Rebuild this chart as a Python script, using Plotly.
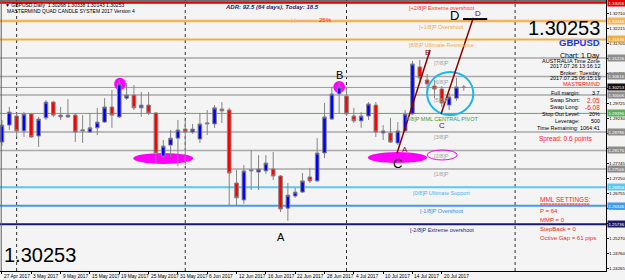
import plotly.graph_objects as go

# ---------------- data ----------------
opens = [1.2845, 1.2901, 1.2931, 1.2882, 1.2938, 1.2865, 1.2925, 1.2977, 1.2934, 1.2928,
         1.2934, 1.2882, 1.2878, 1.2892, 1.2911, 1.2961, 1.2928, 1.2990, 1.3000, 1.2958,
         1.2967, 1.2941, 1.2799, 1.2835, 1.2858, 1.2888, 1.2878, 1.2855, 1.2905, 1.2905,
         1.2954, 1.2951, 1.2710, 1.2654, 1.2750, 1.2746, 1.2750, 1.2756, 1.2733, 1.2627,
         1.2667, 1.2680, 1.2730, 1.2717, 1.2809, 1.2921, 1.3004, 1.2997, 1.2931, 1.2915,
         1.2931, 1.2967, 1.2875, 1.2875, 1.2842, 1.2882, 1.2938, 1.3093, 1.3050, 1.3030,
         1.3020, 1.2967, 1.2990, 1.30268]
highs = [1.2918, 1.2961, 1.2941, 1.2944, 1.2941, 1.2928, 1.2984, 1.2981, 1.2961, 1.2987,
         1.2941, 1.2934, 1.2941, 1.2958, 1.2990, 1.3017, 1.3050, 1.3040, 1.3033, 1.3010,
         1.3010, 1.2944, 1.2852, 1.2885, 1.2918, 1.2918, 1.2905, 1.2941, 1.2951, 1.2967,
         1.2977, 1.2958, 1.2753, 1.2769, 1.2819, 1.2802, 1.2802, 1.2812, 1.2736, 1.2710,
         1.2694, 1.2743, 1.2760, 1.2858, 1.2974, 1.3027, 1.3043, 1.3024, 1.2958, 1.2944,
         1.2977, 1.2977, 1.2901, 1.2925, 1.2911, 1.2951, 1.3113, 1.3116, 1.3070, 1.3050,
         1.3030, 1.3007, 1.3057, 1.30338]
lows = [1.2832, 1.2885, 1.2862, 1.2862, 1.2859, 1.2829, 1.2918, 1.2928, 1.2918, 1.2925,
        1.2845, 1.2842, 1.2875, 1.2868, 1.2908, 1.2892, 1.2925, 1.2984, 1.2951, 1.2928,
        1.2934, 1.2776, 1.2792, 1.2796, 1.2766, 1.2769, 1.2872, 1.2842, 1.2868, 1.2892,
        1.2908, 1.2634, 1.2634, 1.2641, 1.2687, 1.2687, 1.2740, 1.2720, 1.2614, 1.2585,
        1.2661, 1.2677, 1.2710, 1.2713, 1.2792, 1.2918, 1.2941, 1.2931, 1.2908, 1.2892,
        1.2918, 1.2862, 1.2852, 1.2842, 1.2835, 1.2878, 1.2934, 1.3040, 1.2997, 1.2990,
        1.2961, 1.2951, 1.2981, 1.30143]
closes = [1.2901, 1.2944, 1.2882, 1.2938, 1.2862, 1.2921, 1.2977, 1.2934, 1.2928, 1.2934,
          1.2878, 1.2885, 1.2892, 1.2911, 1.2961, 1.2934, 1.3037, 1.3000, 1.2958, 1.2967,
          1.2941, 1.2809, 1.2832, 1.2858, 1.2885, 1.2878, 1.2888, 1.2905, 1.2908, 1.2958,
          1.2948, 1.2743, 1.2661, 1.2750, 1.2753, 1.2756, 1.2776, 1.2733, 1.2624, 1.2670,
          1.2680, 1.2717, 1.2717, 1.2809, 1.2928, 1.3004, 1.3027, 1.2938, 1.2915, 1.2931,
          1.2971, 1.2878, 1.2882, 1.2845, 1.2882, 1.2938, 1.3103, 1.3057, 1.3037, 1.3020,
          1.2974, 1.2994, 1.3027, 1.30253]

date_tick_idx = [0, 4, 8, 12, 16, 20, 24, 28, 32, 36, 40, 44, 48, 52, 56, 60]
date_tick_text = ["27 Apr 2017", "3 May 2017", "9 May 2017", "15 May 2017", "19 May 2017",
                  "25 May 2017", "31 May 2017", "6 Jun 2017", "12 Jun 2017", "16 Jun 2017",
                  "22 Jun 2017", "28 Jun 2017", "4 Jul 2017", "10 Jul 2017", "14 Jul 2017",
                  "20 Jul 2017"]
month_sep_idx = [2, 25, 47, 70]

price_ticks = [1.32710, 1.32215, 1.31705, 1.31210, 1.30715, 1.30220, 1.29725, 1.29230,
               1.28735, 1.28240, 1.27745, 1.27250, 1.26755, 1.26260, 1.25765, 1.25270,
               1.24760, 1.24265]

mml_names = ["[+2/8]P Extreme overshoot", "[+1/8]P Overshoot", "[8/8]P Ultimate Resistance",
             "[7/8]P", "[6/8]P", "[5/8]P", "[4/8]P MML CENTRAL PIVOT", "[3/8]P", "[2/8]P",
             "[1/8]P", "[0/8]P Ultimate Support", "[-1/8]P Overshoot", "[-2/8]P Extreme overshoot"]
mml_prices = [1.33056, 1.32446, 1.31836, 1.31226, 1.30616, 1.30006, 1.29396, 1.28786,
              1.28176, 1.27566, 1.26956, 1.26346, 1.25736]
mml_colors = ["#e00000", "#f8b454", "#f3ad3c", "#a8a8a8", "#a8a8a8", "#a8a8a8", "#58b058",
              "#a8a8a8", "#a8a8a8", "#a8a8a8", "#5cc8f0", "#3c9cf0", "#1a1a6a"]
mml_text_colors = ["#ff3030", "#f8a848", "#f8a848", "#a0a0a0", "#a0a0a0", "#a0a0a0", "#3a9a3a",
                   "#a0a0a0", "#a0a0a0", "#a0a0a0", "#40b8f0", "#3090f0", "#1a1a8a"]
mml_widths = [2.5, 2.5, 2, 1.5, 1.5, 1.5, 1, 1.5, 1.5, 1.5, 2, 2, 2]

current_price = 1.30253

# chart drawing objects (bar index, price)
black_labels = [("A", 38, 1.2532, 11), ("B", 46.1, 1.3066, 11), ("C", 54.0, 1.2776, 13), ("D", 61.7, 1.3264, 13)]
red_labels = [("B", 58.0, 1.3142), ("A", 55.0, 1.2822), ("C", 60.0, 1.2901), ("D", 64.9, 1.3268)]
red_lines = [((53.9, 1.2809), (58.4, 1.3149)), ((59.9, 1.2938), (64.3, 1.3255))]
d_line = ((62.9, 1.3251), (66.2, 1.3251))
magenta_dots = [(15.3, 16.9, 1.3017, 1.3057), (45.2, 46.8, 1.3007, 1.3047)]
magenta_ellipses = [(17.9, 26.1, 1.2773, 1.2809), (49.9, 58.0, 1.2776, 1.2812)]
open_ellipse = (58.0, 62.1, 1.2786, 1.2819)
cyan_circle = (58.0, 64.3, 1.2934, 1.3076)

# ---------------- figure ----------------
W, H = 625, 280
ML, MR, MT, MB = 0, 19, 0, 9
PW, PH = W - ML - MR, H - MT - MB
X0, X1 = -0.27, 82.4
Y0, Y1 = 1.24196, 1.33139

def xp(px):
    return px / PW

def yp(py):
    return 1 - py / PH

FONT = "Liberation Sans, Arial"
AXF = 4.3

fig = go.Figure()
fig.add_trace(go.Candlestick(
    x=list(range(len(opens))), open=opens, high=highs, low=lows, close=closes,
    increasing=dict(fillcolor="#0000ff", line=dict(color="#858585", width=1)),
    decreasing=dict(fillcolor="#ff0000", line=dict(color="#858585", width=1)),
    whiskerwidth=0, showlegend=False, hoverinfo="skip"))

shapes = []
ann = []

# month separators
for i in month_sep_idx:
    shapes.append(dict(type="line", xref="x", yref="paper", x0=i, x1=i, y0=0, y1=1,
                       line=dict(color="#303030", width=1, dash="dot"), layer="below"))

# MML lines and labels
for name, p, c, tc, w in zip(mml_names, mml_prices, mml_colors, mml_text_colors, mml_widths):
    shapes.append(dict(type="line", xref="paper", yref="y", x0=0, x1=1, y0=p, y1=p,
                       line=dict(color=c, width=w), layer="below"))
    ann.append(dict(x=60, y=p, xref="x", yref="y", text=name, showarrow=False,
                    xanchor="center", yanchor="top", yshift=-0.5,
                    font=dict(size=5.5, color=tc, family=FONT)))
    ann.append(dict(x=1, y=p, xref="paper", yref="y", text=f"{p:.5f}", showarrow=False,
                    xanchor="left", yanchor="middle", xshift=1,
                    bgcolor=c if c != "#a8a8a8" else "#8c8c8c", borderpad=0.5,
                    font=dict(size=AXF, color="white", family=FONT)))

# current price line and label
shapes.append(dict(type="line", xref="paper", yref="y", x0=0, x1=1, y0=current_price, y1=current_price,
                   line=dict(color="#9a9a9a", width=1), layer="below"))
ann.append(dict(x=1, y=current_price, xref="paper", yref="y", text=f"{current_price:.5f}",
                showarrow=False, xanchor="left", yanchor="middle", xshift=1, bgcolor="#101010",
                borderpad=0.5, font=dict(size=AXF, color="white", family=FONT)))

# magenta markers
for (a, b, lo, hi) in magenta_dots + magenta_ellipses:
    shapes.append(dict(type="circle", xref="x", yref="y", x0=a, x1=b, y0=lo, y1=hi,
                       fillcolor="#ff00ff", line=dict(width=0), layer="below"))
a, b, lo, hi = open_ellipse
shapes.append(dict(type="circle", xref="x", yref="y", x0=a, x1=b, y0=lo, y1=hi,
                   line=dict(color="#ff00ff", width=1), layer="above"))
a, b, lo, hi = cyan_circle
shapes.append(dict(type="circle", xref="x", yref="y", x0=a, x1=b, y0=lo, y1=hi,
                   line=dict(color="#1ab8f0", width=2), layer="above"))

# pattern lines
for (p0, p1) in red_lines:
    shapes.append(dict(type="line", xref="x", yref="y", x0=p0[0], y0=p0[1], x1=p1[0], y1=p1[1],
                       line=dict(color="#8b0000", width=1.5), layer="above"))
shapes.append(dict(type="line", xref="x", yref="y", x0=d_line[0][0], y0=d_line[0][1],
                   x1=d_line[1][0], y1=d_line[1][1], line=dict(color="black", width=2), layer="above"))

# frame lines
shapes.append(dict(type="line", xref="paper", yref="paper", x0=0, x1=1, y0=1, y1=1,
                   line=dict(color="#404040", width=1.5)))
shapes.append(dict(type="line", xref="paper", yref="paper", x0=0.002, x1=0.002, y0=0, y1=1,
                   line=dict(color="#606060", width=1)))

for (t, xi, p, s) in black_labels:
    ann.append(dict(x=xi, y=p, xref="x", yref="y", text=t, showarrow=False,
                    font=dict(size=s, color="black", family="Liberation Sans, Arial")))
for (t, xi, p) in red_labels:
    ann.append(dict(x=xi, y=p, xref="x", yref="y", text=t, showarrow=False,
                    font=dict(size=8, color="#8b0000", family="Liberation Sans, Arial")))

# date labels (left-aligned at their bar, like MT4)
for i, t in zip(date_tick_idx, date_tick_text):
    ann.append(dict(x=i, y=0, xref="x", yref="paper", text=t, showarrow=False,
                    xanchor="left", yanchor="top", xshift=0, yshift=-0.5,
                    font=dict(size=4.8, color="black", family=FONT)))


def txt(x, y, s, size=5.5, color="black", anchor="left", family=FONT):
    ann.append(dict(x=xp(x), y=yp(y), xref="paper", yref="paper", text=s, showarrow=False,
                    xanchor=anchor, yanchor="middle", font=dict(size=size, color=color, family=family)))

# top-left
txt(3, 5, "▼ GBPUSD,Daily  1.30268 1.30338 1.30143 1.30253", 5)
txt(5, 11.5, "MASTERMIND QUAD CANDLE SYSTEM 2017 Version 4", 5)
# top center
txt(272, 7, "<b><i>ADR: 92.5 (64 days), Today: 18.5</i></b>", 6, "#1c1c78", "center")
txt(316, 20, "|-|----------", 5.5, "#f4a0a0", "right")
txt(317, 20, "25%", 6, "#ff2020", "left")

# right panel
R = 602
txt(R, 28, "1.30253", 20, "black", "right")
txt(R, 43, "<b>GBPUSD</b>", 9.5, "#1a35f0", "right")
txt(R, 55.5, "Chart: 1 Day", 7, "black", "right")
txt(R, 61, "AUSTRALIA Time Zone", 5.5, "black", "right")
txt(R, 66, "2017.07.26 13:16:12", 5.5, "black", "right")
txt(R, 72.5, "Broker: Tuesday", 5.5, "black", "right")
txt(R, 77.5, "2017.07.25 06:15:19", 5.5, "black", "right")
txt(R, 84, "MASTERMIND", 5.5, "#ff2020", "right")
info_labels = ["Full margin:", "Swap Short:", "Swap Long:", "Stop Out Level:", "Leverage:"]
info_values = ["3.7", "2.05", "-6.08", "20%", "500"]
info_colors = ["black", "#ff2020", "#ff2020", "black", "black"]
info_y = [93, 100, 107, 113.5, 121]
for lab, val, col, yy in zip(info_labels, info_values, info_colors, info_y):
    txt(582, yy, lab, 5.5, "black", "right")
    txt(R, yy, val, 6.5 if col != "black" else 5.5, col, "right")
txt(R, 128, "Time Remaining: 1064:41", 5.5, "black", "right")
txt(595, 139, "Spread: 0.6 points", 6.5, "#ff2020", "right")

# MML settings
txt(538, 199, "MML SETTINGS:", 6.5, "#ff2020")
txt(538, 204, "=================", 5, "#ff2020")
txt(538, 211, "P = 64", 6, "#ff2020")
txt(538, 220, "MMP = 0", 6, "#ff2020")
txt(538, 229, "StepBack = 0", 6, "#ff2020")
txt(538, 238, "Octive Gap = 61 pips", 6, "#ff2020")

# bottom-left big price
txt(2, 255, "1.30253", 20, "black", "left")

fig.update_layout(
    width=W, height=H, margin=dict(l=ML, r=MR, t=MT, b=MB, autoexpand=False),
    paper_bgcolor="#f4f4f4", plot_bgcolor="#f4f4f4",
    shapes=shapes, annotations=ann, showlegend=False,
    xaxis=dict(range=[X0, X1], rangeslider=dict(visible=False), showgrid=False, zeroline=False,
               automargin=False, showticklabels=False,
               tickmode="array", tickvals=date_tick_idx,
               ticks="outside", ticklen=2, tickcolor="black",
               showline=True, linecolor="black", linewidth=1),
    yaxis=dict(range=[Y0, Y1], side="right", showgrid=False, zeroline=False,
               automargin=False,
               tickmode="array", tickvals=price_ticks, ticktext=[f"{v:.5f}" for v in price_ticks],
               ticks="outside", ticklen=1.5, tickcolor="black",
               tickfont=dict(size=AXF, color="black", family=FONT),
               showline=True, linecolor="black", linewidth=1),
)

fig.write_html("out.html")
